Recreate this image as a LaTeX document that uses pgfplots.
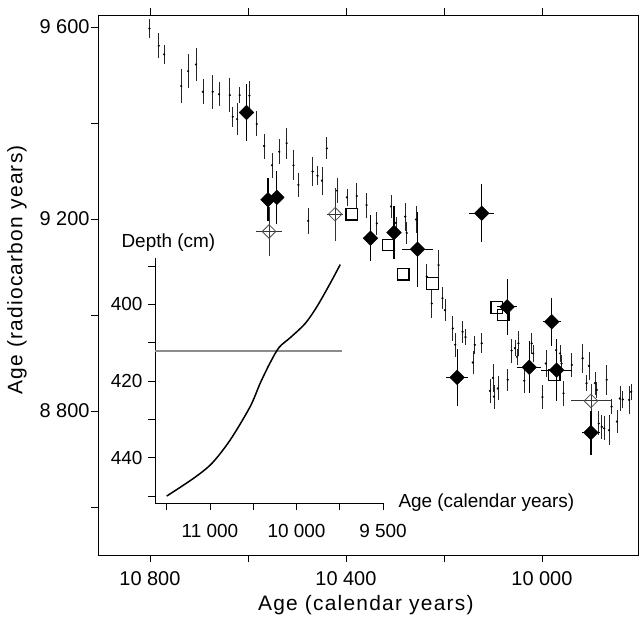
\documentclass[border=0pt]{standalone}
\usepackage{fontspec}
\setmainfont{Liberation Sans}
\usepackage{pgfplots}
\usepackage{pgfplotstable}
\pgfplotsset{compat=1.18}

\pgfplotstableread{
x y ey
10801 9597 19
10782 9561 26
10771 9543 20
10736 9477 35
10722 9508 35
10706 9522 35
10692 9465 26
10672 9465 35
10659 9460 25
10637 9458 35
10631 9413 21
10622 9408 33
10617 9458 17
10597 9457 30
10582 9398 26
10567 9352 26
10551 9312 26
10536 9340 26
10521 9358 32
10507 9312 31
10497 9271 25
10468 9299 30
10458 9290 20
10449 9280 29
10439 9347 23
10477 9196 27
10418 9259 26
10398 9245 17
10378 9248 26
10358 9229 26
10337 9191 24
10308 9226 23
10298 9192 12
10279 9205 29
10276 9171 23
10257 9199 29
10235 9080 27
10225 9024 31
10211 9104 31
10203 9035 23
10198 9010 23
10182 8972 26
10177 8938 25
10162 8965 23
10156 8954 17
10141 8901 23
10137 8938 19
10123 8941 21
10106 8842 25
10100 8869 29
10098 8830 25
10090 8847 25
10070 8865 23
10062 8926 25
10055 8931 17
10048 8941 26
10051 8913 17
10036 8863 26
10021 8941 22
10018 8920 17
9999 8829 25
9992 8899 28
9971 8927 24
9963 8920 17
9960 8899 17
9956 8837 26
9939 8896 25
9917 8910 30
9904 8894 29
9909 8858 17
9892 8858 24
9888 8844 17
9868 8865 31
9884 8774 25
9878 8767 25
9873 8764 25
9863 8760 31
9847 8778 24
9858 8809 15
9841 8826 26
9835 8824 17
9822 8823 29
9818 8840 17
}\small

\pgfplotstableread{
x y ex ey
10603 9422 0 59
10559 9240 0 45
10541 9245 0 55
10350 9160 0 48
10302 9172 0 56
10254 9137 32 78
10123 9212 25 60
10071 9017 20 58
9980 8986 18 50
10173 8870 23 60
10026 8891 25 54
9970 8885 31 65
9900 8755 18 46
}\filled

\pgfplotstableread{
x y
10388 9210
10314 9146
10283 9085
10223 9066
10092 9016
10079 9000
9975 8875
}\squares

\pgfplotstableread{
x y ex ey
10557 9174 26 52
10422 9210 16 55
9900 8821 40 36
}\opendiam

\pgfplotstableread{
x y
-11500 -450.0
-11192 -445.4
-10979 -441.5
-10767 -435.4
-10536 -426.7
-10420 -420.6
-10304 -415.2
-10200 -411.2
-10073 -408.7
-9900 -405.0
-9764 -400.6
-9610 -394.5
-9494 -389.6
}\curve

\begin{document}
\begin{tikzpicture}
\begin{axis}[
  at={(0,0)}, anchor=south west,
  width=540bp, height=540bp, scale only axis,
  x dir=reverse,
  xmin=9804, xmax=10906, ymin=8500, ymax=9625,
  scaled x ticks=false, scaled y ticks=false,
  xtick={10000,10200,10400,10600,10800},
  xticklabels={10 000,,10 400,,10 800},
  ytick={8600,8800,9000,9200,9400,9600},
  yticklabels={,8 800,,9 200,,9 600},
  tick align=outside, major tick length=7bp,
  tick style={black, line width=0.8bp},
  axis line style={line width=0.9bp},
  ticklabel style={font=\fontsize{20}{20}\selectfont},
  xticklabel style={yshift=-6bp},
  yticklabel style={xshift=2bp},
  xlabel={Age (calendar years)},
  ylabel={Age (radiocarbon years)},
  label style={font=\fontsize{21}{21}\selectfont\addfontfeature{LetterSpace=6}},
  xlabel style={at={(axis description cs:0.496,-0.0926)}, anchor=center},
  ylabel style={at={(axis description cs:-0.150,0.528)}, anchor=center},
  clip=false,
]
\addplot[only marks, mark=*, mark size=0.9bp, black,
  error bars/.cd, y dir=both, y explicit,
  error bar style={line width=0.7bp, black!85}, error mark=none]
  table[x=x, y=y, y error=ey] {\small};
\addplot[only marks, mark=square, mark size=5.8bp, black, mark options={line width=1.2bp}]
  table[x=x, y=y] {\squares};
\addplot[only marks, mark=square, mark size=4.8bp, black!70, mark options={rotate=45, line width=0.8bp},
  error bars/.cd, x dir=both, x explicit, y dir=both, y explicit,
  error bar style={line width=0.9bp, black!80}, error mark=none]
  table[x=x, y=y, x error=ex, y error=ey] {\opendiam};
\addplot[only marks, mark=square*, mark size=5.2bp, black, mark options={rotate=45},
  error bars/.cd, x dir=both, x explicit, y dir=both, y explicit,
  error bar style={line width=1.1bp, black}, error mark=none]
  table[x=x, y=y, x error=ex, y error=ey] {\filled};
\end{axis}
\begin{axis}[
  at={(57bp,52bp)}, anchor=south west,
  width=228bp, height=245bp, scale only axis,
  xmin=-11635, xmax=-9000, ymin=-451.8, ymax=-387.9,
  scaled x ticks=false, scaled y ticks=false,
  axis x line*=bottom, axis y line*=left,
  axis line style={line width=0.9bp},
  xtick={-11500,-11000,-10500,-10000,-9500,-9000},
  xticklabels={,11 000,,10 000,,9 500},
  ytick={-450,-440,-430,-420,-410,-400,-390},
  yticklabels={,440,,420,,400,},
  tick align=outside, major tick length=7bp,
  tick style={black, line width=0.8bp},
  ticklabel style={font=\fontsize{19}{19}\selectfont},
  xticklabel style={yshift=-11bp},
  yticklabel style={xshift=-2bp},
  xlabel={Age (calendar years)},
  ylabel={Depth (cm)},
  label style={font=\fontsize{19}{19}\selectfont},
  xlabel style={at={(axis description cs:1.0526,0)}, anchor=west},
  ylabel style={rotate=-90, at={(axis description cs:-0.162,1.061)}, anchor=west},
  clip=false,
]
\addplot[black!45, line width=2.2bp] coordinates {(-11635,-412.1) (-9470,-412.1)};
\addplot[black, line width=1.5bp, smooth] table[x=x, y=y] {\curve};
\end{axis}
\pgfresetboundingbox
\path (-98bp,-65bp) rectangle (541bp,555bp);
\end{tikzpicture}
\end{document}
